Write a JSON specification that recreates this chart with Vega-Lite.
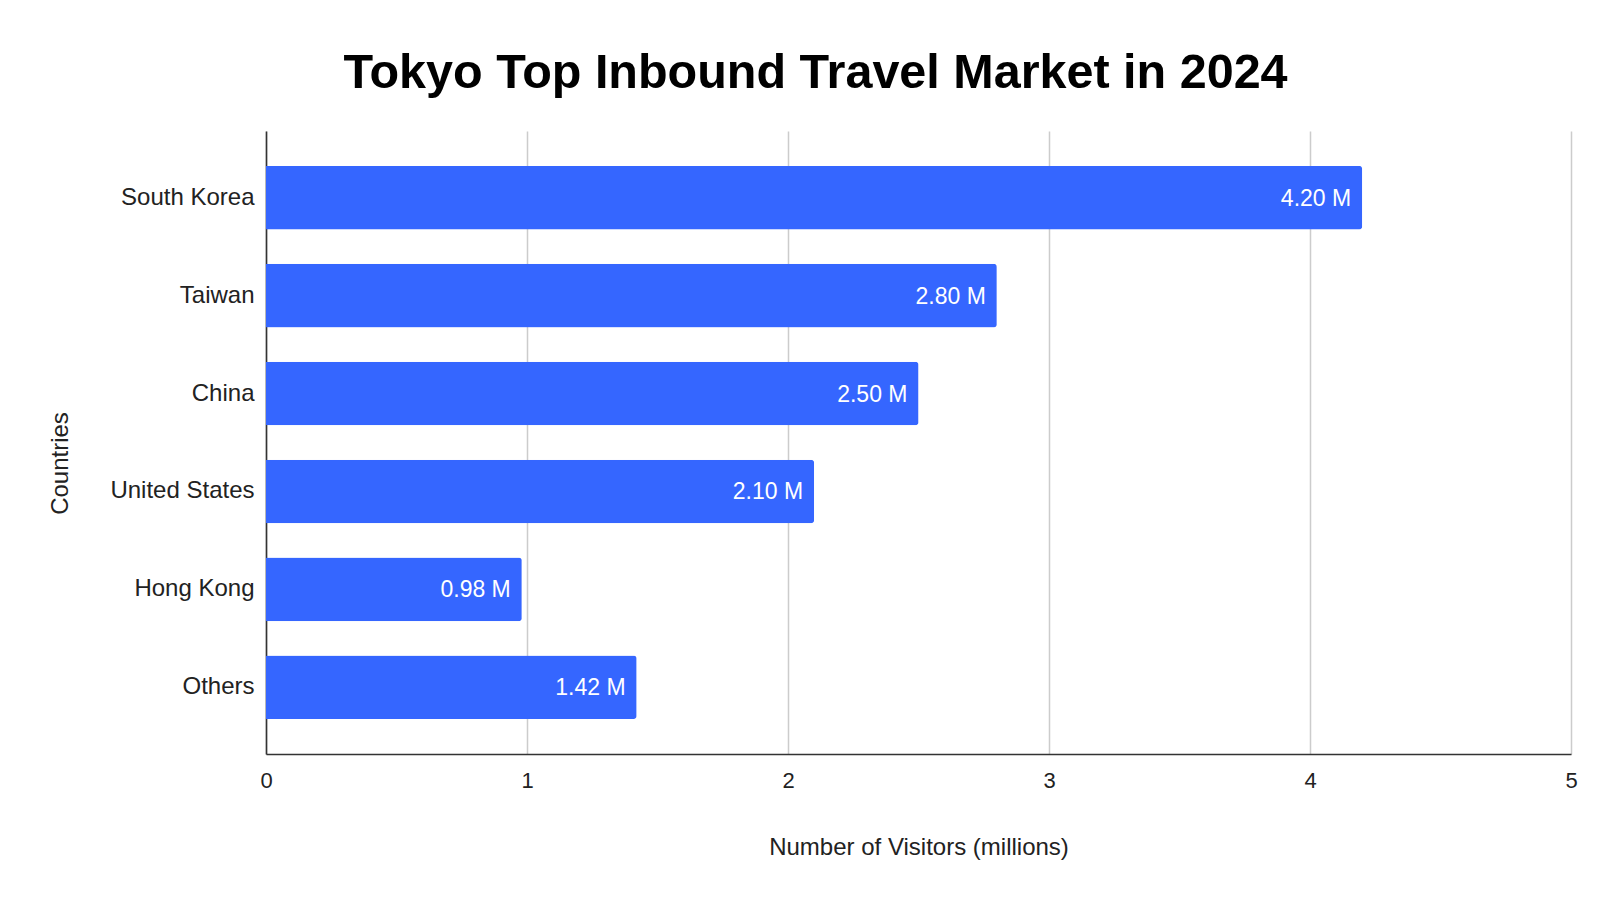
{
  "$schema": "https://vega.github.io/schema/vega-lite/v6.json",
  "width": 1305,
  "height": 623,
  "autosize": {"type": "none"},
  "padding": {"left": 266, "top": 131, "right": 45, "bottom": 150},
  "background": "white",
  "title": {
    "text": "Tokyo Top Inbound Travel Market in 2024",
    "font": "Liberation Sans",
    "fontSize": 48.5,
    "fontWeight": "bold",
    "color": "#000000",
    "anchor": "middle",
    "dx": -103,
    "baseline": "alphabetic",
    "offset": -5
  },
  "config": {
    "view": {"stroke": null},
    "font": "Liberation Sans"
  },
  "data": {
    "values": [
      {"country": "South Korea", "visitors": 4.20, "label": "4.20 M"},
      {"country": "Taiwan", "visitors": 2.80, "label": "2.80 M"},
      {"country": "China", "visitors": 2.50, "label": "2.50 M"},
      {"country": "United States", "visitors": 2.10, "label": "2.10 M"},
      {"country": "Hong Kong", "visitors": 0.98, "label": "0.98 M"},
      {"country": "Others", "visitors": 1.42, "label": "1.42 M"}
    ]
  },
  "encoding": {
    "y": {
      "field": "country",
      "type": "nominal",
      "sort": null,
      "scale": {"paddingInner": 0.35, "paddingOuter": 0.357},
      "axis": {
        "title": "Countries",
        "titleFont": "Liberation Sans",
        "titleFontSize": 24,
        "titleFontWeight": "normal",
        "titleColor": "#222222",
        "titleX": -194,
        "titleY": 332,
        "labelFont": "Liberation Sans",
        "labelFontSize": 24,
        "labelColor": "#222222",
        "labelPadding": 12,
        "ticks": false,
        "domain": true,
        "domainColor": "#333333",
        "domainWidth": 1.6,
        "grid": false
      }
    },
    "x": {
      "field": "visitors",
      "type": "quantitative",
      "scale": {"domain": [0, 5], "nice": false},
      "axis": {
        "title": "Number of Visitors (millions)",
        "titleFont": "Liberation Sans",
        "titleFontSize": 24,
        "titleFontWeight": "normal",
        "titleColor": "#222222",
        "titlePadding": 44,
        "values": [0, 1, 2, 3, 4, 5],
        "format": "d",
        "labelFont": "Liberation Sans",
        "labelFontSize": 22,
        "labelColor": "#222222",
        "labelPadding": 16,
        "labelFlush": false,
        "ticks": false,
        "domain": true,
        "domainColor": "#333333",
        "domainWidth": 1.6,
        "grid": true,
        "gridColor": "#cccccc",
        "gridWidth": 1.5
      }
    }
  },
  "layer": [
    {
      "mark": {"type": "bar", "color": "#3566FF", "cornerRadiusEnd": 3}
    },
    {
      "mark": {
        "type": "text",
        "align": "right",
        "baseline": "middle",
        "dx": -11,
        "dy": 1,
        "color": "white",
        "font": "Liberation Sans",
        "fontSize": 23
      },
      "encoding": {"text": {"field": "label"}}
    }
  ]
}
